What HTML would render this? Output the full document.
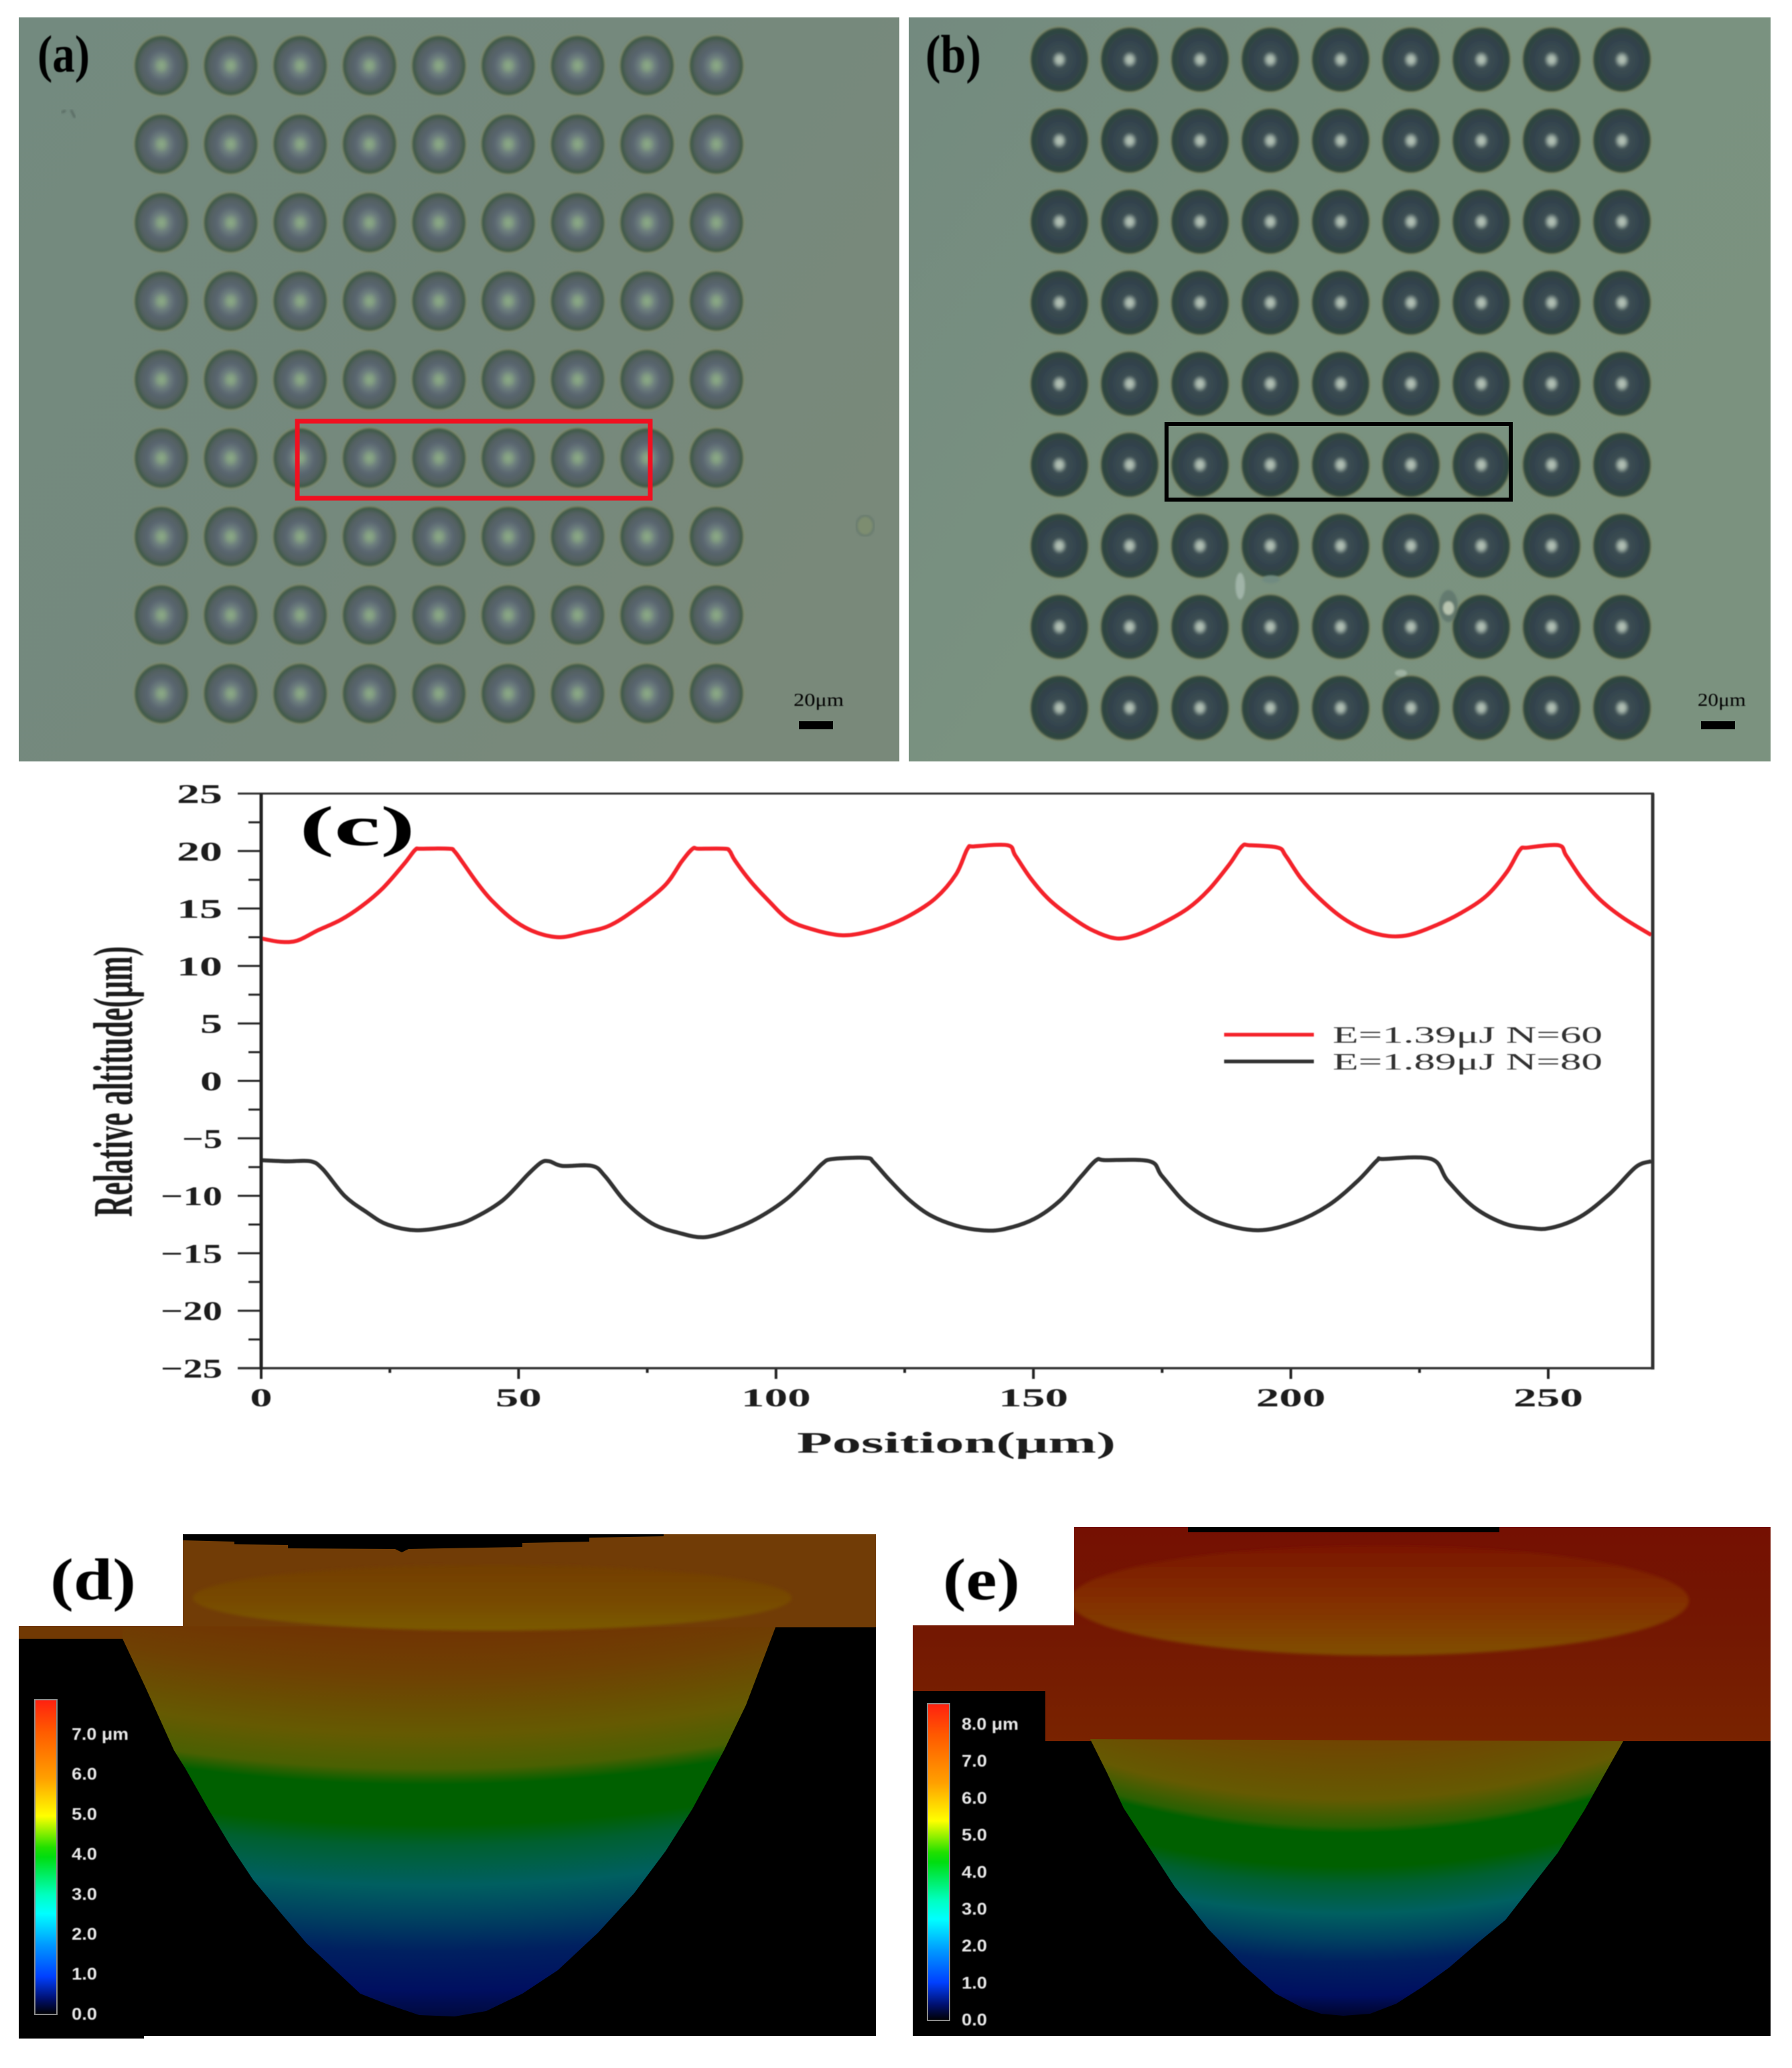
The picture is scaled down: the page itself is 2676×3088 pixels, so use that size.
<!DOCTYPE html>
<html lang="en">
<head>
<meta charset="utf-8">
<title>Microlens array figure</title>
<style>
html,body{margin:0;padding:0;background:#fff;}
svg{display:block;}
text{font-family:"Liberation Serif",serif;}
.sans{font-family:"Liberation Sans",sans-serif;font-weight:bold;fill:#e8e8e8;}
</style>
</head>
<body>
<svg id="fig" xmlns="http://www.w3.org/2000/svg" width="2676" height="3088" viewBox="0 0 2676 3088">
<defs>
  <filter id="soft" x="-5%" y="-5%" width="110%" height="110%"><feGaussianBlur stdDeviation="1.6"/></filter>
  <filter id="softer" x="-5%" y="-5%" width="110%" height="110%"><feGaussianBlur stdDeviation="0.9"/></filter>
  <filter id="rimBlur" x="-5%" y="-20%" width="110%" height="140%"><feGaussianBlur stdDeviation="2.5"/></filter>
  <linearGradient id="bgA" x1="0" y1="0" x2="1" y2="0.6">
    <stop offset="0" stop-color="#738a7f"/><stop offset="0.55" stop-color="#75897d"/><stop offset="1" stop-color="#79897a"/>
  </linearGradient>
  <linearGradient id="bgB" x1="0" y1="0" x2="1" y2="0.6">
    <stop offset="0" stop-color="#738a7f"/><stop offset="0.5" stop-color="#7a9280"/><stop offset="1" stop-color="#7b927f"/>
  </linearGradient>
  <radialGradient id="lensA">
    <stop offset="0" stop-color="#8cab86"/>
    <stop offset="0.14" stop-color="#829d82"/>
    <stop offset="0.3" stop-color="#6d7e7e"/>
    <stop offset="0.52" stop-color="#5a6670"/>
    <stop offset="0.8" stop-color="#526060"/>
    <stop offset="0.94" stop-color="#405a48"/>
    <stop offset="1" stop-color="#435d47"/>
  </radialGradient>
  <radialGradient id="lensB">
    <stop offset="0" stop-color="#b8c4b8"/>
    <stop offset="0.11" stop-color="#a4b4aa"/>
    <stop offset="0.26" stop-color="#3c4e52"/>
    <stop offset="0.6" stop-color="#33434e"/>
    <stop offset="0.9" stop-color="#2e4440"/>
    <stop offset="1" stop-color="#344e3d"/>
  </radialGradient>
  <linearGradient id="barD" x1="0" y1="0" x2="0" y2="1">
    <stop offset="0" stop-color="#ff2010"/><stop offset="0.1" stop-color="#ff5a00"/>
    <stop offset="0.25" stop-color="#ffa000"/><stop offset="0.37" stop-color="#ffff00"/>
    <stop offset="0.47" stop-color="#20e000"/><stop offset="0.5" stop-color="#00dd10"/>
    <stop offset="0.62" stop-color="#00ffc0"/><stop offset="0.68" stop-color="#00ffff"/>
    <stop offset="0.78" stop-color="#0098ff"/><stop offset="0.88" stop-color="#0040ff"/>
    <stop offset="0.95" stop-color="#001070"/><stop offset="1" stop-color="#000"/>
  </linearGradient>
  <linearGradient id="ellipseD" x1="0" y1="0" x2="0" y2="1">
    <stop offset="0" stop-color="#723e05"/><stop offset="0.5" stop-color="#774804"/><stop offset="1" stop-color="#7a5a01"/>
  </linearGradient>
  <linearGradient id="ellipseE" x1="0" y1="0" x2="0" y2="1">
    <stop offset="0" stop-color="#7a1602"/><stop offset="0.5" stop-color="#832e04"/><stop offset="1" stop-color="#804e02"/>
  </linearGradient>
  <linearGradient id="surfaceE" gradientUnits="userSpaceOnUse" x1="0" y1="2280" x2="0" y2="2600">
    <stop offset="0" stop-color="#751002"/><stop offset="0.5" stop-color="#741802"/><stop offset="1" stop-color="#792300"/>
  </linearGradient>
  <radialGradient id="coneD" gradientUnits="userSpaceOnUse" cx="640" cy="-35" r="3050">
    <stop offset="0.8115" stop-color="#703503"/>
    <stop offset="0.8308" stop-color="#6f4003"/>
    <stop offset="0.8607" stop-color="#655a02"/>
    <stop offset="0.8774" stop-color="#4a6002"/>
    <stop offset="0.8852" stop-color="#006000"/>
    <stop offset="0.9049" stop-color="#006000"/>
    <stop offset="0.9151" stop-color="#006030"/>
    <stop offset="0.9344" stop-color="#005f60"/>
    <stop offset="0.9515" stop-color="#004060"/>
    <stop offset="0.9669" stop-color="#002060"/>
    <stop offset="0.9862" stop-color="#000f60"/>
    <stop offset="0.998" stop-color="#000a40"/>
  </radialGradient>
  <radialGradient id="coneE" gradientUnits="userSpaceOnUse" cx="2015" cy="1437" r="1600">
    <stop offset="0.7269" stop-color="#704502"/>
    <stop offset="0.7563" stop-color="#6a5002"/>
    <stop offset="0.7813" stop-color="#655a02"/>
    <stop offset="0.8063" stop-color="#2a6002"/>
    <stop offset="0.8125" stop-color="#006000"/>
    <stop offset="0.8438" stop-color="#006000"/>
    <stop offset="0.86" stop-color="#006030"/>
    <stop offset="0.8875" stop-color="#006060"/>
    <stop offset="0.9125" stop-color="#004060"/>
    <stop offset="0.9331" stop-color="#002060"/>
    <stop offset="0.9644" stop-color="#000f60"/>
    <stop offset="0.9819" stop-color="#000530"/>
  </radialGradient>
</defs>
<rect x="0" y="0" width="2676" height="3088" fill="#ffffff"/>

<g id="panelA">
  <rect x="28" y="26" width="1315" height="1111" fill="url(#bgA)"/>
  <g id="lensesA" filter="url(#soft)"></g>
  <path d="M92 168l6-3M106 164l6 12" stroke="#55665e" stroke-width="3" fill="none" filter="url(#soft)"/>
  <ellipse cx="1292" cy="785" rx="13" ry="15" fill="#7d8d70" stroke="#66796e" stroke-width="3" filter="url(#soft)"/>
  <rect x="444" y="629" width="527" height="115" fill="none" stroke="#f01020" stroke-width="7"/>
  <text x="56" y="107" font-size="78" font-weight="bold" textLength="78" lengthAdjust="spacingAndGlyphs" filter="url(#softer)">(a)</text>
  <text x="1185" y="1054" font-size="27" textLength="75" lengthAdjust="spacingAndGlyphs" filter="url(#softer)">20μm</text>
  <rect x="1193" y="1077" width="51" height="12" fill="#000"/>
</g>

<g id="panelB">
  <rect x="1357" y="26" width="1287" height="1111" fill="url(#bgB)"/>
  <g id="lensesB" filter="url(#soft)"></g>
  <g filter="url(#soft)">
    <ellipse cx="1852" cy="875" rx="7" ry="20" fill="#a0b4a8"/>
    <ellipse cx="2163" cy="905" rx="14" ry="24" fill="#5a6f68" opacity="0.7"/>
    <ellipse cx="2163" cy="908" rx="8" ry="10" fill="#b8c4b0"/>
    <ellipse cx="2092" cy="1005" rx="9" ry="5" fill="#9fb2a2"/>
    <ellipse cx="1898" cy="865" rx="13" ry="6" fill="#6f8a80"/>
  </g>
  <rect x="1742" y="633" width="514" height="113" fill="none" stroke="#000" stroke-width="6"/>
  <text x="1382" y="108" font-size="80" font-weight="bold" textLength="83" lengthAdjust="spacingAndGlyphs" filter="url(#softer)">(b)</text>
  <text x="2535" y="1054" font-size="27" textLength="72" lengthAdjust="spacingAndGlyphs" filter="url(#softer)">20μm</text>
  <rect x="2540" y="1077" width="51" height="12" fill="#000"/>
</g>

<g id="chart" filter="url(#softer)"></g>

<g id="panelD">
  <rect x="28" y="2430" width="1280" height="610" fill="#000"/>
  <rect x="28" y="3040" width="187" height="4" fill="#000"/>
  <rect x="273" y="2291" width="1035" height="139" fill="#713c06"/>
  <rect x="28" y="2428" width="500" height="19" fill="#713903"/>
  <path d="M273 2291H991V2294L880 2296V2302L780 2304V2310L610 2313L600 2318L590 2313L430 2312V2307L350 2306V2302L273 2300Z" fill="#000"/>
  <path d="M183 2447L217 2519L260 2614L277 2641L311 2701L344 2756L378 2807L418 2855L458 2902L505 2946L538 2977L579 2993L626 3009L679 3011L726 3003L780 2977L833 2942L893 2886L947 2827L994 2764L1034 2701L1081 2614L1114 2546L1158 2430L183 2430Z" fill="url(#coneD)"/>
  <ellipse cx="735" cy="2386" rx="447" ry="49" fill="url(#ellipseD)" filter="url(#rimBlur)"/>
  <text x="75" y="2388" font-size="88" font-weight="bold" textLength="128" lengthAdjust="spacingAndGlyphs" filter="url(#softer)">(d)</text>
  <rect x="52" y="2538" width="33" height="470" fill="url(#barD)" stroke="#8a8a8a" stroke-width="2"/>
  <g id="labelsD" filter="url(#softer)"></g>
</g>

<g id="panelE">
  <rect x="1363" y="2525" width="1281" height="515" fill="#000"/>
  <rect x="1604" y="2280" width="1040" height="147" fill="url(#surfaceE)"/>
  <rect x="1774" y="2280" width="465" height="8" fill="#000"/>
  <rect x="1363" y="2427" width="1281" height="98" fill="url(#surfaceE)"/>
  <rect x="1561" y="2525" width="1083" height="75" fill="url(#surfaceE)"/>
  <path d="M1628 2597L1653 2647L1678 2700L1715 2757L1754 2817L1804 2880L1855 2933L1905 2977L1945 2998L1973 3007L2006 3010L2046 3007L2085 2992L2124 2967L2164 2938L2208 2900L2248 2867L2287 2817L2326 2767L2366 2703L2394 2653L2424 2600Z" fill="url(#coneE)"/>
  <ellipse cx="2060" cy="2390" rx="462" ry="82" fill="url(#ellipseE)" filter="url(#rimBlur)"/>
  <rect x="1363" y="2280" width="241" height="147" fill="#ffffff"/>
  <text x="1408" y="2388" font-size="88" font-weight="bold" textLength="115" lengthAdjust="spacingAndGlyphs" filter="url(#softer)">(e)</text>
  <rect x="1385" y="2544" width="33" height="473" fill="url(#barD)" stroke="#8a8a8a" stroke-width="2"/>
  <g id="labelsE" filter="url(#softer)"></g>
</g>
</svg>
<script>
/* Chart data */
var xTickValues = [0, 50, 100, 150, 200, 250];
var xMinorTicks = [25, 75, 125, 175, 225];
var yTickValues = [25, 20, 15, 10, 5, 0, -5, -10, -15, -20, -25];
var yMinorTicks = [22.5, 17.5, 12.5, 7.5, 2.5, -2.5, -7.5, -12.5, -17.5, -22.5];
var xTickLabels = ["0", "50", "100", "150", "200", "250"];
var yTickLabels = ["25", "20", "15", "10", "5", "0", "\u22125", "\u221210", "\u221215", "\u221220", "\u221225"];
var seriesNames = ["E=1.39μJ N=60", "E=1.89μJ N=80"];
var redPositions = [0,3.7,7,11,15.4,19.5,23.7,27.8,29.9,31,36.5,37.5,39,42,45,49.3,53.5,58,62.6,67.6,72.6,78.4,81.7,83.8,85,90,91,92,95,98.5,102.5,107,112,116,121,126,131,135,137.2,138.5,145,146.5,149.5,153,157.5,161.5,166,170,175,180,184,188,190.5,192,197.5,199,202,205.5,210,214.5,219,223,228,233,238,242,244.5,246,252,253.5,256.5,260,264.5,270];
var redAltitudes = [12.4,12.1,12.2,13.1,14.0,15.2,16.8,18.9,20.1,20.2,20.2,20.0,19.1,17.2,15.6,13.9,12.9,12.5,12.9,13.5,14.9,17.0,19.1,20.2,20.2,20.2,20.0,19.2,17.4,15.7,14.0,13.2,12.7,12.8,13.4,14.4,15.9,18.0,20.2,20.4,20.5,19.6,17.6,15.8,14.2,13.1,12.4,12.7,13.7,15.0,16.6,18.8,20.4,20.5,20.3,19.6,17.6,15.9,14.2,13.1,12.6,12.7,13.5,14.6,16.1,18.2,20.1,20.3,20.5,19.6,17.6,15.8,14.2,12.7];
var blackPositions = [0,5,9.6,12,16.2,20.4,24.5,30.3,36.9,41,46.9,51.9,54.4,56,58.5,64.3,66.8,70.9,75.9,80.9,86.2,92.3,97,102,106,109,111,117.5,119,122,126,130,135,140,144.3,150.2,155.2,159.3,162.2,164,172.6,175,180,185.8,193.6,200.8,207.4,213,216.8,218,227.3,230.5,235.6,241.4,246.3,250.5,256.3,262,267,270];
var blackAltitudes = [-6.9,-7.0,-7.0,-7.7,-10.0,-11.4,-12.5,-13.0,-12.6,-12.0,-10.4,-8.1,-7.1,-7.0,-7.4,-7.4,-8.3,-10.6,-12.4,-13.2,-13.6,-12.8,-11.8,-10.3,-8.6,-7.2,-6.8,-6.7,-7.1,-8.6,-10.4,-11.7,-12.6,-13.0,-12.9,-12.0,-10.4,-8.3,-6.9,-6.9,-7.0,-8.3,-10.8,-12.3,-13.0,-12.3,-10.8,-8.7,-6.9,-6.8,-6.8,-8.7,-11.0,-12.4,-12.8,-12.8,-11.8,-9.8,-7.5,-7.0];
var colorbarLabelsD = ["7.0 μm", "6.0", "5.0", "4.0", "3.0", "2.0", "1.0", "0.0"];
var colorbarLabelsE = ["8.0 μm", "7.0", "6.0", "5.0", "4.0", "3.0", "2.0", "1.0", "0.0"];

var NS = "http://www.w3.org/2000/svg";
function node(tag, parent, attrs) {
  var el = document.createElementNS(NS, tag);
  for (var k in attrs) { el.setAttribute(k, attrs[k]); }
  parent.appendChild(el);
  return el;
}
function xScale(v) { return 390 + (v / 250) * 1922; }
function yScale(v) { return 1614 - v * 17.16; }

var chart = document.getElementById("chart");

yMinorTicks.forEach(function (v) {
  var t = node("line", chart, {x1: 371, x2: 390, y1: yScale(v), y2: yScale(v), stroke: "#222", "stroke-width": 3});
  
  
});
yTickValues.forEach(function (v, i) {
  var t = node("line", chart, {x1: 355, x2: 390, y1: yScale(v), y2: yScale(v), stroke: "#222", "stroke-width": 3});
  
  
  var label = yTickLabels[i];
  var w = label.length === 1 ? 33 : (label.length === 2 ? (label.charAt(0) === "\u2212" ? 60 : 68) : 92);
  var lab = node("text", chart, {x: 332 - w, y: yScale(v) + 14, "font-size": 40, "font-weight": "bold", fill: "#1a1a1a", textLength: w, lengthAdjust: "spacingAndGlyphs"});
  lab.textContent = label;
  
  
});
xMinorTicks.forEach(function (v) {
  var t = node("line", chart, {x1: xScale(v), x2: xScale(v), y1: 2043, y2: 2050, stroke: "#222", "stroke-width": 4});
  
  
});
xTickValues.forEach(function (v, i) {
  var t = node("line", chart, {x1: xScale(v), x2: xScale(v), y1: 2043, y2: 2059, stroke: "#222", "stroke-width": 4});
  
  
  var label = xTickLabels[i];
  var w = label.length === 1 ? 33 : (label.length === 2 ? 69 : 104);
  var lab = node("text", chart, {x: xScale(v) - w / 2, y: 2100, "font-size": 39, "font-weight": "bold", fill: "#1a1a1a", textLength: w, lengthAdjust: "spacingAndGlyphs"});
  lab.textContent = label;
  
  
});

/* Smooth curve through the read values */
function smoothPath(xs, ys) {
  var p = xs.map(function (x, i) { return [xScale(x), yScale(ys[i])]; });
  var d = "M" + p[0][0].toFixed(1) + " " + p[0][1].toFixed(1);
  for (var i = 0; i < p.length - 1; i++) {
    var a = p[Math.max(i - 1, 0)], b = p[i], c = p[i + 1], e = p[Math.min(i + 2, p.length - 1)];
    var k = 1 / 6;
    d += "C" + (b[0] + (c[0] - a[0]) * k).toFixed(1) + " " + (b[1] + (c[1] - a[1]) * k).toFixed(1) +
         " " + (c[0] - (e[0] - b[0]) * k).toFixed(1) + " " + (c[1] - (e[1] - b[1]) * k).toFixed(1) +
         " " + c[0].toFixed(1) + " " + c[1].toFixed(1);
  }
  return d;
}
var redLine = node("path", chart, {d: smoothPath(redPositions, redAltitudes), fill: "none", stroke: "#f4202a", "stroke-width": 6, "stroke-linejoin": "round"});


var blackLine = node("path", chart, {d: smoothPath(blackPositions, blackAltitudes), fill: "none", stroke: "#333333", "stroke-width": 6, "stroke-linejoin": "round"});



var frameTop = node("line", chart, {x1: 355, x2: 2470, y1: 1185, y2: 1185, stroke: "#333", "stroke-width": 3});


var frameBottom = node("line", chart, {x1: 355, x2: 2470, y1: 2043, y2: 2043, stroke: "#333", "stroke-width": 3.5});


var frameLeft = node("line", chart, {x1: 390, x2: 390, y1: 1185, y2: 2045, stroke: "#222", "stroke-width": 5});


var frameRight = node("line", chart, {x1: 2468, x2: 2468, y1: 1185, y2: 2045, stroke: "#333", "stroke-width": 5});



var xTitle = node("text", chart, {x: 1190, y: 2169, "font-size": 44, "font-weight": "bold", fill: "#1a1a1a", textLength: 476, lengthAdjust: "spacingAndGlyphs"});
xTitle.textContent = "Position(μm)";


var yTitle = node("text", chart, {transform: "translate(197,1817) rotate(-90)", x: 0, y: 0, "font-size": 84, "font-weight": "bold", fill: "#1a1a1a", textLength: 404, lengthAdjust: "spacingAndGlyphs"});
yTitle.textContent = "Relative altitude(μm)";


var cLabel = node("text", chart, {x: 447, y: 1262, "font-size": 84, "font-weight": "bold", fill: "#000", textLength: 173, lengthAdjust: "spacingAndGlyphs"});
cLabel.textContent = "(c)";



var legendColors = ["#f4202a", "#333333"];
seriesNames.forEach(function (name, i) {
  var y = 1545 + i * 40;
  var sw = node("line", chart, {x1: 1828, x2: 1962, y1: y, y2: y, stroke: legendColors[i], "stroke-width": 5.5});
  
  
  var tx = node("text", chart, {x: 1990, y: y + 12, "font-size": 35, fill: "#333", textLength: 403, lengthAdjust: "spacingAndGlyphs"});
  tx.textContent = name;
  
  
});

/* Microlens arrays */
function lensGrid(groupId, x0, dx, y0, dy, rx, ry, fill) {
  var g = document.getElementById(groupId);
  for (var r = 0; r < 9; r++) {
    for (var c = 0; c < 9; c++) {
      var halo = node("ellipse", g, {cx: x0 + c * dx, cy: y0 + r * dy, rx: rx + 2, ry: ry + 2, fill: "#8a9066", opacity: 0.6});
      
      
      var lens = node("ellipse", g, {cx: x0 + c * dx, cy: y0 + r * dy, rx: rx, ry: ry, fill: fill});
      
      
    }
  }
}
lensGrid("lensesA", 241, 103.6, 98, 117.2, 40, 44.5, "url(#lensA)");
lensGrid("lensesB", 1582, 105, 89, 121, 43, 48, "url(#lensB)");

/* Colour-bar labels */
function barLabels(groupId, labels, x, yStart, yStep) {
  var g = document.getElementById(groupId);
  labels.forEach(function (lab, i) {
    var w = lab.length > 3 ? 85 : 38;
    var t = node("text", g, {"class": "sans", x: x, y: yStart + i * yStep + 9, "font-size": 25, textLength: w, lengthAdjust: "spacingAndGlyphs"});
    t.textContent = lab;
    
    
  });
}
barLabels("labelsD", colorbarLabelsD, 107, 2589, 59.7);
barLabels("labelsE", colorbarLabelsE, 1436, 2574, 55.2);
</script>
</body>
</html>
